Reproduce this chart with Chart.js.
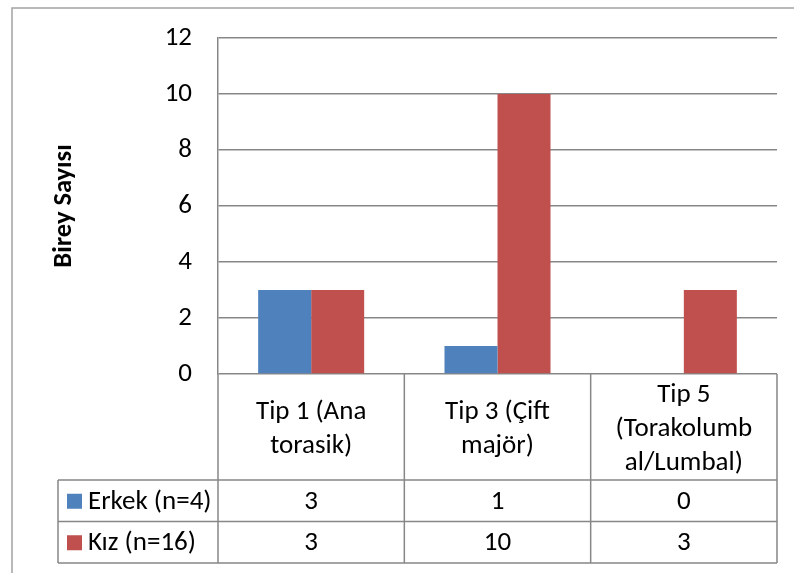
<!DOCTYPE html>
<html>
<head>
<meta charset="utf-8">
<script src="https://cdn.jsdelivr.net/npm/chart.js@4"></script>
<style>
  html, body { margin: 0; padding: 0; background: #fff; }
  #wrap { width: 794px; height: 573px; }
</style>
</head>
<body>
<div id="wrap"><canvas id="chart" width="794" height="573"></canvas></div>
<script>
// values
const categories = [
  ['Tip 1 (Ana', 'torasik)'],
  ['Tip 3 (Çift', 'majör)'],
  ['Tip 5', '(Torakolumb', 'al/Lumbal)'],
];
const seriesNames = ['Erkek (n=4)', 'Kız (n=16)'];
const erkekValues = [3, 1, 0];
const kizValues = [3, 10, 3];
const yTicks = [0, 2, 4, 6, 8, 10, 12];
const yTitle = 'Birey Sayısı';

const COLORS = ['#4F81BD', '#C0504D'];
const LINE = '#878787';
const FONT = 'Carlito, Calibri, Lato, sans-serif';
const FONT_SIZE = 27;

/* geometry of the data table under the plot */
const TABLE = {
  headerH: 106,
  rowH: 41.5,
  left: 58,
  lineH: 34,
};

const dataTable = {
  id: 'dataTable',
  afterDraw(chart) {
    const { ctx, chartArea } = chart;
    const xs = chart.scales.x;
    const step = xs.getPixelForValue(1) - xs.getPixelForValue(0);
    const top = chartArea.bottom;
    const headerBottom = top + TABLE.headerH;
    const rows = [erkekValues, kizValues];
    const tableBottom = headerBottom + TABLE.rowH * rows.length;

    ctx.save();

    /* outer chart border */
    ctx.strokeStyle = '#a3a3a3';
    ctx.lineWidth = 1.5;
    ctx.beginPath();
    ctx.moveTo(12, chart.height);
    ctx.lineTo(12, 8);
    ctx.lineTo(chart.width, 8);
    ctx.stroke();

    ctx.strokeStyle = LINE;
    ctx.lineWidth = 1.5;
    ctx.beginPath();
    /* column separators */
    for (let i = 0; i <= categories.length; i++) {
      const x = xs.getPixelForValue(0) - step / 2 + i * step;
      ctx.moveTo(x, top);
      ctx.lineTo(x, tableBottom);
    }
    /* row separators */
    for (let r = 0; r <= rows.length; r++) {
      const y = headerBottom + r * TABLE.rowH;
      ctx.moveTo(TABLE.left, y);
      ctx.lineTo(chartArea.right, y);
    }
    ctx.moveTo(TABLE.left, headerBottom);
    ctx.lineTo(TABLE.left, tableBottom);
    ctx.stroke();

    ctx.fillStyle = '#000';
    ctx.font = `${FONT_SIZE}px ${FONT}`;
    ctx.textAlign = 'center';
    ctx.textBaseline = 'middle';

    /* header labels */
    categories.forEach((lines, i) => {
      const cx = xs.getPixelForValue(i);
      const midY = (top + headerBottom) / 2 + 2;
      const y0 = midY - (lines.length - 1) * TABLE.lineH / 2;
      lines.forEach((t, k) => ctx.fillText(t, cx, y0 + k * TABLE.lineH));
    });

    /* legend keys, series names and values */
    rows.forEach((vals, r) => {
      const cy = headerBottom + r * TABLE.rowH + TABLE.rowH / 2;
      ctx.fillStyle = COLORS[r];
      ctx.fillRect(TABLE.left + 9, cy - 7, 15, 15);
      ctx.fillStyle = '#000';
      ctx.textAlign = 'left';
      ctx.fillText(seriesNames[r], TABLE.left + 30, cy + 1);
      ctx.textAlign = 'center';
      vals.forEach((v, i) => ctx.fillText(String(v), xs.getPixelForValue(i), cy + 1));
    });

    ctx.restore();
  },
};

new Chart(document.getElementById('chart'), {
  type: 'bar',
  data: {
    labels: categories,
    datasets: [
      { label: seriesNames[0], data: erkekValues, backgroundColor: COLORS[0], borderWidth: 0 },
      { label: seriesNames[1], data: kizValues, backgroundColor: COLORS[1], borderWidth: 0 },
    ],
  },
  options: {
    responsive: false,
    animation: false,
    devicePixelRatio: 1,
    layout: { padding: { left: 0, top: 38, right: 17, bottom: 0 } },
    plugins: {
      legend: { display: false },
      tooltip: { enabled: false },
    },
    datasets: {
      bar: { categoryPercentage: 0.569, barPercentage: 1.0 },
    },
    scales: {
      x: {
        ticks: { display: false },
        grid: { display: false },
        border: { display: false },
        afterFit(scale) { scale.height = 573 - 374; },
      },
      y: {
        min: 0,
        max: 12,
        afterBuildTicks(scale) { scale.ticks = yTicks.map(v => ({ value: v })); },
        afterFit(scale) {
          scale.width = 218;
          // tick padding would otherwise push the plot top down
          scale.paddingTop = 0;
          scale.paddingBottom = 0;
        },
        ticks: {
          padding: 26,
          color: '#000',
          font: { family: FONT, size: FONT_SIZE },
        },
        grid: { color: LINE, lineWidth: 1.5, drawTicks: false },
        border: { color: LINE, width: 1.5 },
        title: {
          display: true,
          text: yTitle,
          color: '#000',
          font: { family: FONT, size: 26.5, weight: 'bold', lineHeight: 1.2 },
          padding: { top: 48, bottom: 0 },
        },
      },
    },
  },
  plugins: [dataTable],
});
</script>
</body>
</html>
